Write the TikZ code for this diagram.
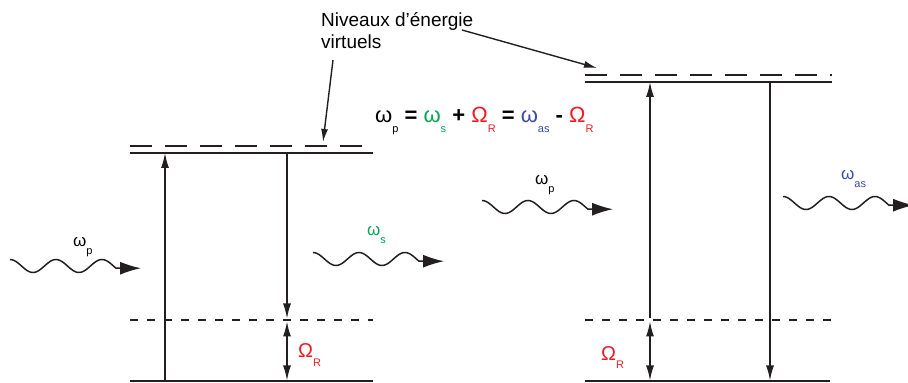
\documentclass[tikz,border=0pt]{standalone}
\usepackage{fontspec}
\setmainfont{Liberation Sans}
\usepackage{tikz}
\usetikzlibrary{arrows.meta, positioning, calc}
\definecolor{ink}{HTML}{231F20}
\definecolor{stokes}{HTML}{00A651}
\definecolor{raman}{HTML}{ED1C24}
\definecolor{antistokes}{HTML}{3A4DA0}
\newcommand{\lowsub}[1]{\raisebox{-0.45em}{\fontsize{11}{11}\selectfont #1}}

\begin{document}
\begin{tikzpicture}[x=1pt, y=1pt,
  groundline/.style={ink, line width=2pt},
  vlevel/.style={ink, line width=1.6pt},
  virtline/.style={ink, line width=1.6pt, dash pattern=on 22pt off 13pt},
  midline/.style={ink, line width=1.4pt, dash pattern=on 8pt off 9pt},
  trans/.style={ink, line width=1.4pt, -{Latex[length=15pt,width=8pt]}},
  twoway/.style={ink, line width=1.4pt, {Latex[length=15pt,width=8pt]}-{Latex[length=15pt,width=8pt]}},
  pointer/.style={ink, line width=1.4pt, -{Latex[length=13pt,width=7pt]}},
  wave/.style={ink, line width=1.5pt, -{Latex[length=21pt,width=13pt]}},
  lbl/.style={font=\fontsize{17}{17}\selectfont, inner sep=0pt, anchor=base west}]
\useasboundingbox (0,0) rectangle (908,383);

% Stokes side: levels
\draw[groundline] (130,1.5) -- (373,1.5);
\draw[midline] (130,63) -- (373,63);
\draw[vlevel] (130,230) -- (373,230);
\draw[virtline] (130,237) -- (373,237);
% anti-Stokes side: levels
\draw[groundline] (585,1.5) -- (830,1.5);
\draw[midline] (585,63) -- (832,63);
\draw[vlevel] (585,301) -- (832,301);
\draw[virtline] (585,308) -- (832,308);

% transition end points
\coordinate (upLa) at (165,1.5);  \coordinate (upLb) at (165,230);
\coordinate (dnLa) at (287,230);  \coordinate (dnLb) at (287,64.5);
\coordinate (omLa) at (287,61.5); \coordinate (omLb) at (287,2.5);
\coordinate (upRa) at (650,64.5); \coordinate (upRb) at (650,301);
\coordinate (omRa) at (650,61.5); \coordinate (omRb) at (650,2.5);
\coordinate (dnRa) at (770,301);  \coordinate (dnRb) at (770,2.5);

\draw[trans] (upLa) -- (upLb);
\draw[trans] (dnLa) -- (dnLb);
\draw[twoway] (omLa) -- (omLb);
\draw[trans] (upRa) -- (upRb);
\draw[twoway] (omRa) -- (omRb);
\draw[trans] (dnRa) -- (dnRb);

% photons
\foreach \px/\py in {10/117, 313/124, 482/176, 783/180}
  \draw[wave] plot[domain=0:106, samples=70, smooth]
    ({\px+\x}, {\py+6.5*cos(7.83*\x)}) -- ++(25,0);

% labels
\node[lbl] (wpL) at (73,136) {ω\lowsub{p}};
\node[lbl, text=stokes] (ws) at (367,147) {ω\lowsub{s}};
\node[lbl, text=raman, font=\fontsize{20}{20}\selectfont] (omL) at (298,25) {Ω\lowsub{R}};
\node[lbl] (wpR) at (535,198) {ω\lowsub{p}};
\node[lbl, text=antistokes] (was) at (841,203) {ω\lowsub{as}};
\node[lbl, text=raman, font=\fontsize{20}{20}\selectfont] (omR) at (601,23) {Ω\lowsub{R}};

% energy conservation
\node[lbl, font=\fontsize{22}{22}\selectfont] (eq) at (375,260)
  {ω\lowsub{p} \textbf{=} \textcolor{stokes}{ω\lowsub{s}} \textbf{+}
   \textcolor{raman}{Ω\lowsub{R}} \textbf{=} \textcolor{antistokes}{ω\lowsub{as}}
   \textbf{-} \textcolor{raman}{Ω\lowsub{R}}};

% virtual levels
\node[inner sep=0pt, anchor=north west, align=left, font=\fontsize{19}{22}\selectfont]
  (niveaux) at (321,371) {Niveaux d'énergie\\virtuels};
\coordinate (tipL) at (323,241);
\coordinate (tipR) at (597,315);
\draw[pointer] (333,323) -- (tipL);
\draw[pointer] (462,353) -- (tipR);
\end{tikzpicture}
\end{document}
